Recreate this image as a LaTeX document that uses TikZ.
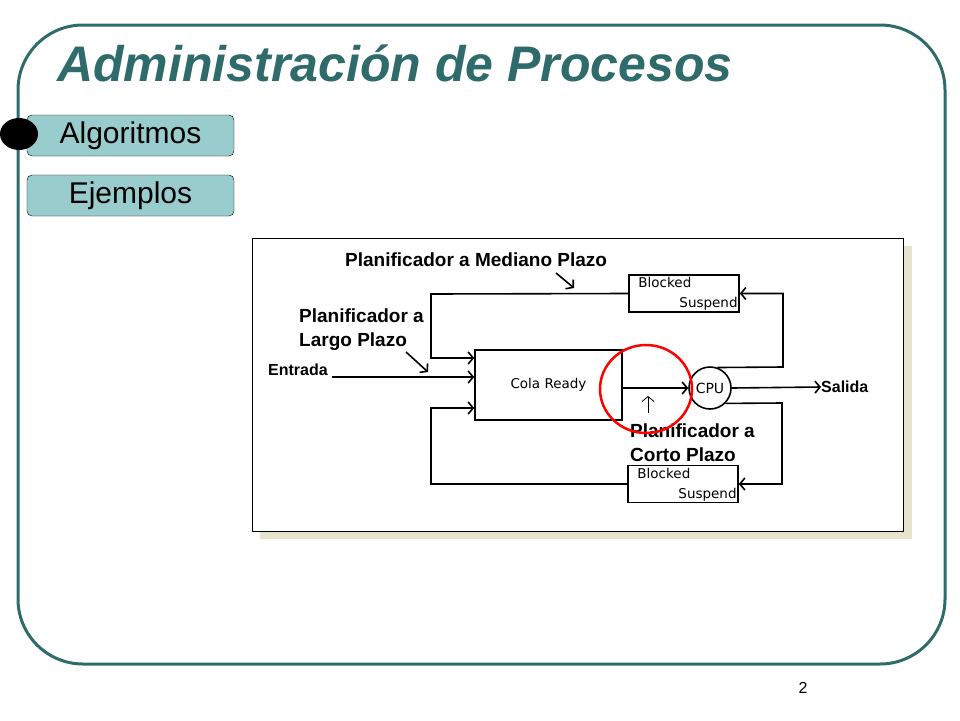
\documentclass[tikz,border=0pt]{standalone}
\usepackage{fontspec}
\setmainfont{Liberation Sans}
\newfontfamily\scanfont{DejaVu Sans}
\usetikzlibrary{positioning,arrows.meta}
\definecolor{slideteal}{HTML}{2F6B6B}
\definecolor{btnfill}{HTML}{99CCCC}
\definecolor{shadow}{HTML}{E6E4CC}

\begin{document}
\begin{tikzpicture}[x=1pt,y=-1pt,
  every node/.style={inner sep=0pt},
  >={Straight Barb[length=5pt,width=12pt]},
  btn/.style={draw,fill=btnfill,rounded corners=5pt,minimum width=207pt,minimum height=41pt,font=\fontsize{30}{34}\selectfont},
  blk/.style={draw,line width=1.6pt,minimum width=110pt,minimum height=37pt},
  lbl/.style={font=\bfseries\fontsize{19}{24}\selectfont,align=left},
  io/.style={font=\bfseries\fontsize{16}{20}\selectfont},
  small/.style={font=\scanfont\fontsize{13.5}{15}\selectfont},
  line/.style={line width=1.6pt}]
\useasboundingbox (0,0) rectangle (960,720);

% slide frame and title
\draw[slideteal,line width=3pt,rounded corners=65pt] (18,25) rectangle (945,664);
\node[anchor=base west,text=slideteal,font=\bfseries\itshape\fontsize{50}{54}\selectfont] (T) at (57,81) {Administración de Procesos};

% menu
\node[btn] (A) at (130.5,135.5) {Algoritmos};
\node[btn] (E) at (130.5,195.5) {Ejemplos};
\fill (19,134) ellipse (19pt and 16pt);
\node[font=\fontsize{16}{18}\selectfont] (N) at (803,688) {2};

% picture frame
\fill[shadow] (260,246) rectangle (912,539);
\filldraw[fill=white,draw=black] (252,238) rectangle (903,531);

% boxes
\node[draw,line width=1.6pt,minimum width=147pt,minimum height=70pt,small] (R) at (548.5,385) {Cola Ready};
\node[circle,draw,line width=1.6pt,minimum size=42pt,font=\scanfont\fontsize{14}{16}\selectfont] (C) at (710,388) {CPU};
\node[blk] (B1) at (684,293.5) {};
\node[small,anchor=north west] (B1a) at ([shift={(10,3)}]B1.north west) {Blocked};
\node[small,anchor=south east] (B1b) at ([shift={(-2,-2)}]B1.south east) {Suspend};
\node[blk] (B2) at (683,484) {};
\node[small,anchor=north west] (B2a) at ([shift={(10,3)}]B2.north west) {Blocked};
\node[small,anchor=south east] (B2b) at ([shift={(-2,-2)}]B2.south east) {Suspend};

% labels
\node[lbl,anchor=base west] (M) at (345,266) {Planificador a Mediano Plazo};
\node[lbl,anchor=base west] (L) at (299,346) {Planificador a\\Largo Plazo};
\node[lbl,anchor=base west] (K) at (630,461) {Planificador a\\Corto Plazo};
\node[io,anchor=base west] (In) at (268,375) {Entrada};
\node[io,anchor=west] (S) at (821,387) {Salida};

% bends
\coordinate (t1) at (431,294);
\coordinate (b1) at (431,484);
\coordinate (t2) at (783,367);
\coordinate (b2) at (782,403);

% flows
\draw[line,->] (In.base east) ++(4,2) -- (R.west |- 0,377);
\draw[line,->] (B1.west) -- (t1) |- (R.west |- 0,358);
\draw[line,->] (B2.west) -- (b1) |- (R.west |- 0,408);
\draw[line,->] (R.east |- C.west) -- (C.west);
\draw[line,->] (C.east) -- (S.west);
\draw[line,->] (C.70) -- (t2) |- (B1.east);
\draw[line,->] (C.-45) -- (b2) |- (B2.east);

% pointers
\coordinate (m1) at (556,273);
\coordinate (m2) at (574,288);
\coordinate (l1) at (406,352);
\coordinate (l2) at (428,372);
\coordinate (k1) at (648,413);
\coordinate (k2) at (648,396);
\draw[line,->] (m1) -- (m2);
\draw[line,->] (l1) -- (l2);
\draw[thick,->] (k1) -- (k2);

% highlight
\draw[red,line width=2.5pt] (646,389) ellipse (46pt and 44pt);
\end{tikzpicture}
\end{document}
